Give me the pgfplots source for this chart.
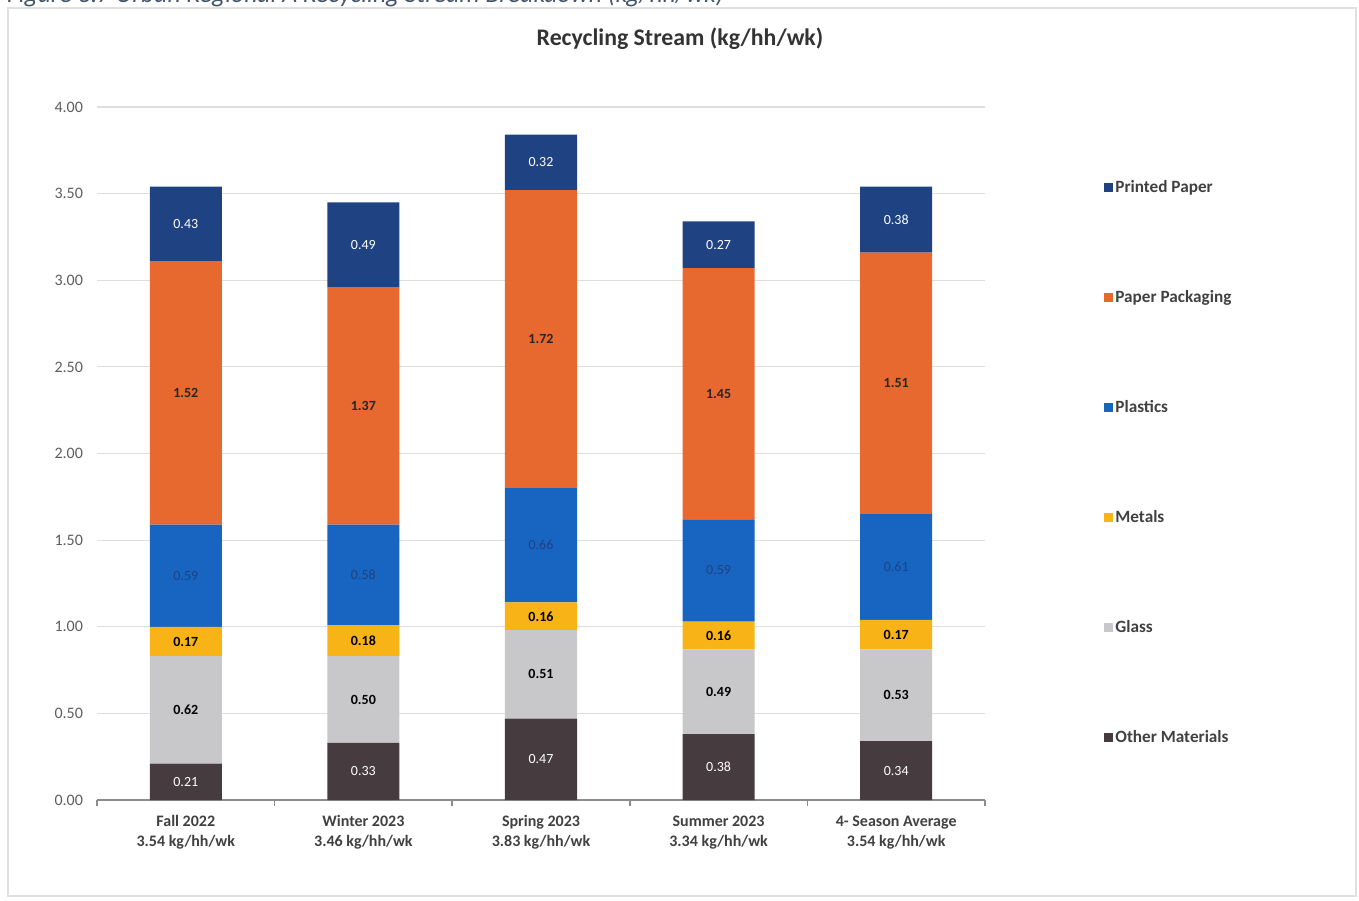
\documentclass[border=0pt]{standalone}
\usepackage{pgfplots}
\pgfplotsset{compat=1.18}
\usepackage{pgfplotstable}
\usepackage{fontspec}
\setmainfont{Carlito}
\definecolor{cPrinted}{HTML}{1F4283}
\definecolor{cPack}{HTML}{E8692F}
\definecolor{cPlast}{HTML}{1765C0}
\definecolor{cMetal}{HTML}{F8B317}
\definecolor{cGlass}{HTML}{C8C8CA}
\definecolor{cOther}{HTML}{463B3F}
\definecolor{cText}{HTML}{404040}
\definecolor{cCap}{HTML}{44546A}

\pgfplotstableread{
x other glass metals plastics packaging printed
0 0.21 0.62 0.17 0.59 1.52 0.43
1 0.33 0.50 0.18 0.58 1.37 0.49
2 0.47 0.51 0.16 0.66 1.72 0.32
3 0.38 0.49 0.16 0.59 1.45 0.27
4 0.34 0.53 0.17 0.61 1.51 0.38
}\datatable

\newcommand{\seg}[2]{%
\addplot[fill=#2, draw=none] table[x=x, y=#1]{\datatable};
}
% label at the middle of each segment (base = sum of the segments below)
\newcommand{\lab}[4]{%
\addplot[draw=none, mark=none, point meta=explicit, nodes near coords,
  nodes near coords={\pgfmathprintnumber[fixed,fixed zerofill,precision=2,assume math mode=true]{\pgfplotspointmeta}},
  every node near coord/.append style={text=#3, font=#4\fontsize{7}{8}\selectfont, anchor=center}]
  table[x=x, y expr={#2+\thisrow{#1}/2}, meta=#1]{\datatable};
}

\begin{document}
\begin{tikzpicture}
\useasboundingbox (-48.5pt,-50pt) rectangle (631pt,400pt);
\draw[draw=black!12, line width=0.6pt] (-44.5pt,396pt) rectangle (629.5pt,-48pt);
\node[anchor=base west, font=\itshape\fontsize{12.8}{14}\selectfont, text=cCap] at (-48.5pt,398.6pt) {Figure 3.7 Urban Regional A Recycling Stream Breakdown (kg/hh/wk)};
\begin{axis}[
  at={(0,0)}, anchor=south west,
  scale only axis, width=444pt, height=346.5pt,
  ybar stacked, bar width=36pt,
  xmin=-0.5, xmax=4.5, ymin=0, ymax=4,
  axis lines*=left,
  y axis line style={draw=none},
  x axis line style={draw=black!45, line width=0.8pt},
  xtick={0,1,2,3,4},
  xticklabels={{Fall 2022\\3.54 kg/hh/wk},{Winter 2023\\3.46 kg/hh/wk},{Spring 2023\\3.83 kg/hh/wk},{Summer 2023\\3.34 kg/hh/wk},{4- Season Average\\3.54 kg/hh/wk}},
  xticklabel style={align=center, font=\bfseries\fontsize{8}{10}\selectfont, text=cText},
  major x tick style={draw=none},
  minor xtick={-0.5,0.5,1.5,2.5,3.5,4.5},
  minor x tick style={draw=black!45, line width=0.8pt},
  minor tick length=3pt,
  xtick align=outside,
  ytick={0,0.5,...,4},
  ytick style={draw=none},
  ymajorgrids, grid style={draw=black!13, line width=0.6pt},
  yticklabel={\pgfmathprintnumber[fixed,fixed zerofill,precision=2,assume math mode=true]{\tick}},
  yticklabel style={font=\fontsize{8}{10}\selectfont, text=cText!85, xshift=-3.5pt},
  legend cell align=left,
  reverse legend,
  legend style={draw=none, fill=none, at={(1.134,0.8976)}, anchor=north west, inner sep=0pt,
    font=\bfseries\fontsize{8.6}{10}\selectfont, text=cText, row sep=45.5pt,
    nodes={inner sep=1pt, text height=6pt, text depth=1.5pt}},
  legend image code/.code={\path[#1,draw=none] (0pt,-2pt) rectangle (4.5pt,2.5pt);},
  clip=false,
]
\seg{other}{cOther}
\seg{glass}{cGlass}
\seg{metals}{cMetal}
\seg{plastics}{cPlast}
\seg{packaging}{cPack}
\seg{printed}{cPrinted}
\legend{Other Materials,Glass,Metals,Plastics,Paper Packaging,Printed Paper}
\end{axis}
\begin{axis}[
  at={(0,0)}, anchor=south west,
  scale only axis, width=444pt, height=346.5pt,
  xmin=-0.5, xmax=4.5, ymin=0, ymax=4,
  hide axis, clip=false,
]
\lab{other}{0}{white}{}
\lab{glass}{\thisrow{other}}{black}{\bfseries}
\lab{metals}{\thisrow{other}+\thisrow{glass}}{black}{\bfseries}
\lab{plastics}{\thisrow{other}+\thisrow{glass}+\thisrow{metals}}{cPrinted}{}
\lab{packaging}{\thisrow{other}+\thisrow{glass}+\thisrow{metals}+\thisrow{plastics}}{black!85}{\bfseries}
\lab{printed}{\thisrow{other}+\thisrow{glass}+\thisrow{metals}+\thisrow{plastics}+\thisrow{packaging}}{white}{}
\end{axis}
\node[font=\bfseries\fontsize{11.9}{13}\selectfont, text=black!80] at (291.5pt,380.5pt) {Recycling Stream (kg/hh/wk)};
\end{tikzpicture}
\end{document}
